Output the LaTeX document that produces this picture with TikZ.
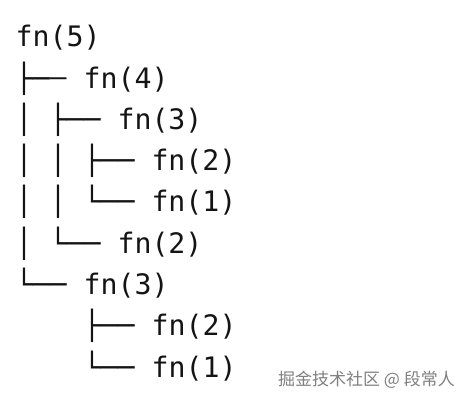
\documentclass[tikz,border=0pt]{standalone}
\usepackage{fontspec}
\newfontfamily\codefont{DejaVu Sans Mono}
\newfontfamily\cjkfont{Noto Sans CJK SC}
\begin{document}
\begin{tikzpicture}[x=1pt,y=-1pt,
    codeline/.style={anchor=base west,inner sep=0pt,text=black!92,
      font=\codefont\fontsize{28.2}{34}\selectfont}]
  \useasboundingbox[fill=white](0,0)rectangle(468,402);
  % call tree, one line per call
  \node[codeline](f5)at(15.5,46.7){fn(5)};
  \node[codeline](f4)at(15.5,88.0){├─\raisebox{2pt}{–} fn(4)};
  \node[codeline](f43)at(15.5,129.3){│ ├── fn(3)};
  \node[codeline](f432)at(15.5,170.6){│ │ ├── fn(2)};
  \node[codeline](f431)at(15.5,211.9){│ │ └── fn(1)};
  \node[codeline](f42)at(15.5,253.2){│ └── fn(2)};
  \node[codeline](f3)at(15.5,294.5){└── fn(3)};
  \node[codeline](f32)at(83.5,335.8){├── fn(2)};
  \node[codeline](f31)at(83.5,377.1){└── fn(1)};
  % watermark
  \node[anchor=east,inner sep=0pt,text=black!50,
    font=\cjkfont\fontsize{17}{20}\selectfont](mark)at(455,380){掘金技术社区 @ 段常人};
\end{tikzpicture}
\end{document}
